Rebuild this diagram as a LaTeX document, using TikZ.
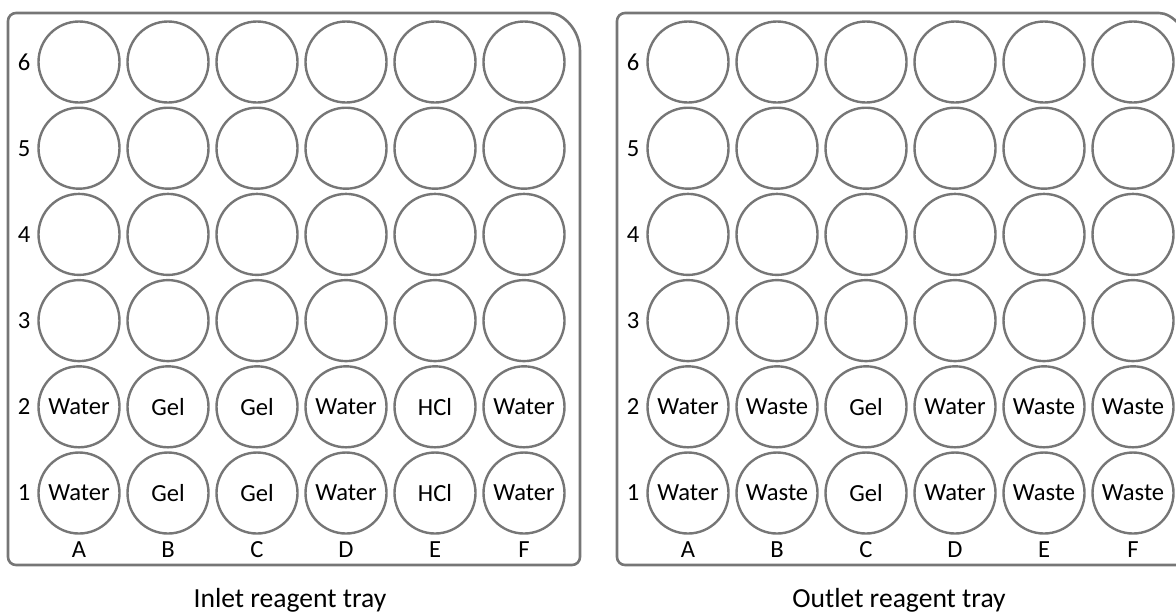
\documentclass[tikz,border=0pt]{standalone}
\usepackage{fontspec}
\setmainfont{Carlito}
\definecolor{wellgray}{RGB}{118,118,118}
\tikzset{
  well/.style={draw=wellgray,circle,line width=1.2pt,minimum size=40.5pt,
    inner sep=0pt,font=\fontsize{12.3}{14}\selectfont},
  tray/.style={draw=wellgray,line width=1.3pt},
  lbl/.style={inner sep=0pt,font=\fontsize{12.3}{14}\selectfont},
  traytitle/.style={inner sep=0pt,font=\fontsize{13.8}{16}\selectfont}
}
\def\inletlist{A/Water,B/Gel,C/Gel,D/Water,E/HCl,F/Water}
\def\outletlist{A/Water,B/Waste,C/Gel,D/Water,E/Waste,F/Waste}
\begin{document}
\begin{tikzpicture}[x=0.5pt,y=-0.5pt]
    \useasboundingbox (0,0) rectangle (1176,612);
    \foreach \tr/\dx/\ttl/\list in {in/0/Inlet/\inletlist,out/609/Outlet/\outletlist}{
        \edef\wells{\list}
        % tray outline, big corner top right
        \draw[tray,rounded corners=4pt] ({8+\dx},300) -- ({8+\dx},13)
            -- ({542+\dx},13) [sharp corners] .. controls ({563+\dx},13)
            and ({580+\dx},30) .. ({580+\dx},51) [rounded corners=4pt]
            -- ({580+\dx},565) -- ({8+\dx},565) -- cycle;
        \foreach \row in {1,...,6}{
            \pgfmathsetmacro\cy{493-86.2*(\row-1)}
            \node[lbl] (\tr-row\row) at ({24+\dx},\cy) {\row};
        }
        \foreach \col/\liquid [count=\i from 0] in \wells{
            \pgfmathsetmacro\cx{79+89*\i+\dx}
            \foreach \row in {1,...,6}{
                \pgfmathsetmacro\cy{493-86.2*(\row-1)}
                \node[well] (\tr-\col\row) at (\cx,\cy) {\ifnum\row<3 \liquid\fi};
            }
            \node[lbl] (\tr-col\col) at (\cx,550) {\col};
        }
        \node[traytitle] (\tr-title) at ({290+\dx},600) {\ttl{} reagent tray};
    }
\end{tikzpicture}
\end{document}
